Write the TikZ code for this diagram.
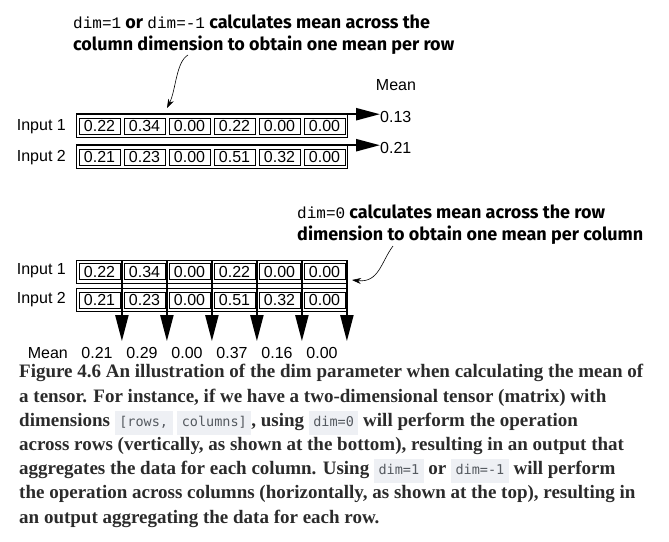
\documentclass[tikz,border=0pt]{standalone}
\usepackage{fontspec}
\setmainfont{Liberation Sans}
\newfontfamily\labfont{Liberation Sans}
\newfontfamily\notefont{Fira Sans}
\newfontfamily\notemono{Liberation Mono}
\newfontfamily\capfont{Liberation Serif}
\newfontfamily\codefont{DejaVu Sans Mono}
\usetikzlibrary{positioning, calc, fit, arrows.meta}
\definecolor{capgray}{HTML}{2B2B2B}
\definecolor{codebg}{HTML}{EEF0F4}
\definecolor{codetext}{HTML}{555A60}
\newcommand{\codebit}[1]{{\setlength{\fboxsep}{4.5pt}\colorbox{codebg}{\rule[-4.5pt]{0pt}{12.5pt}\codefont\mdseries\fontsize{13.5}{13.5}\selectfont\color{codetext}#1}}}
\newcommand{\dimcode}[1]{{\notemono\mdseries\fontsize{16}{16}\selectfont #1}}

\begin{document}
\begin{tikzpicture}[x=1pt, y=-1pt,
    every node/.style={inner sep=0pt},
    cell/.style={draw, line width=0.8pt, minimum width=41pt, minimum height=16pt, font=\labfont\fontsize{16}{16}\selectfont},
    rowframe/.style={draw, line width=0.8pt, inner xsep=2pt, inner ysep=3pt},
    lab/.style={font=\labfont\fontsize{16}{16}\selectfont},
    note/.style={font=\notefont\bfseries\fontsize{18}{18}\selectfont, anchor=base west},
    meanarrow/.style={line width=2.4pt, -{Triangle[length=24pt, width=12pt]}},
    colarrow/.style={line width=2pt, -{Triangle[length=26pt, width=13pt]}},
    curly/.style={line width=0.6pt, -{Stealth[length=9pt, width=6pt]}},
    capline/.style={font=\capfont\bfseries\fontsize{19}{19}\selectfont, text=capgray, anchor=base west}]
    \useasboundingbox (0,0) rectangle (669,541);

    % mean per row (dim=1)
    \node[note] (notea1) at (73,28) {\dimcode{dim=1} or \dimcode{dim=-1} calculates mean across the};
    \node[note] (notea2) at (73,50) {column dimension to obtain one mean per row};
    \node[lab] (tmeanhead) at (396,85) {Mean};
    \foreach \i/\a/\b in {0/0.22/0.21,1/0.34/0.23,2/0.00/0.00,3/0.22/0.51,4/0.00/0.32,5/0.00/0.00} {
        \node[cell] (ta\i) at (99.5+45*\i,126) {\a};
        \node[cell] (tb\i) at (99.5+45*\i,157) {\b};
    }
    \node[rowframe, fit=(ta0)(ta5)] (trowa) {};
    \node[rowframe, fit=(tb0)(tb5)] (trowb) {};
    \node[lab, anchor=east] (tlaba) at (66,127) {Input 1};
    \node[lab, anchor=east] (tlabb) at (66,158) {Input 2};
    \node[lab, anchor=west] (tmeana) at (380,117) {0.13};
    \node[lab, anchor=west] (tmeanb) at (380,148) {0.21};
    \draw[meanarrow] (trowa.north west) -- (trowa.north west -| tmeana.west);
    \draw[meanarrow] (trowb.north west) -- (trowb.north west -| tmeanb.west);
    \coordinate (curlya) at (188,55);
    \coordinate (curlyatip) at (167,108);
    \draw[curly] (curlya) .. controls (176,62) and (176,90) .. (curlyatip);

    % mean per column (dim=0)
    \node[note] (noteb1) at (297,218) {\dimcode{dim=0} calculates mean across the row};
    \node[note] (noteb2) at (297,240) {dimension to obtain one mean per column};
    \foreach \i/\a/\b/\m in {0/0.22/0.21/0.21,1/0.34/0.23/0.29,2/0.00/0.00/0.00,3/0.22/0.51/0.37,4/0.00/0.32/0.16,5/0.00/0.00/0.00} {
        \node[cell] (ba\i) at (99.5+45*\i,271.5) {\a};
        \node[cell] (bb\i) at (99.5+45*\i,300) {\b};
        \node[lab] (bm\i) at (97+45*\i,353) {\m};
    }
    \node[rowframe, fit=(ba0)(ba5)] (browa) {};
    \node[rowframe, fit=(bb0)(bb5)] (browb) {};
    \node[lab, anchor=east] (blaba) at (66,271) {Input 1};
    \node[lab, anchor=east] (blabb) at (66,300) {Input 2};
    \node[lab, anchor=east] (bmeanhead) at (68,353) {Mean};
    \foreach \i in {0,...,5} {
        \coordinate (bt\i) at ($(ba\i.north east)+(1.5,-3)$);
        \draw[colarrow] (bt\i) -- ($(bt\i |- bm\i.north)+(0,-6)$);
    }
    \coordinate (curlyb) at (393,246);
    \coordinate (curlybtip) at (352,280);
    \draw[curly] (curlyb) .. controls (381,262) and (379,283) .. (curlybtip);

    % caption
    \node[capline] (cap1) at (19,377) {Figure 4.6 An illustration of the dim parameter when calculating the mean of};
    \node[capline] (cap2) at (19,402) {a tensor. For instance, if we have a two-dimensional tensor (matrix) with};
    \node[capline] (cap3) at (19,426) {dimensions \codebit{[rows,} \codebit{columns]}, using \codebit{dim=0} will perform the operation};
    \node[capline] (cap4) at (19,450) {across rows (vertically, as shown at the bottom), resulting in an output that};
    \node[capline] (cap5) at (19,474) {aggregates the data for each column. Using \codebit{dim=1} or \codebit{dim=-1} will perform};
    \node[capline] (cap6) at (19,498) {the operation across columns (horizontally, as shown at the top), resulting in};
    \node[capline] (cap7) at (19,523) {an output aggregating the data for each row.};
\end{tikzpicture}
\end{document}
